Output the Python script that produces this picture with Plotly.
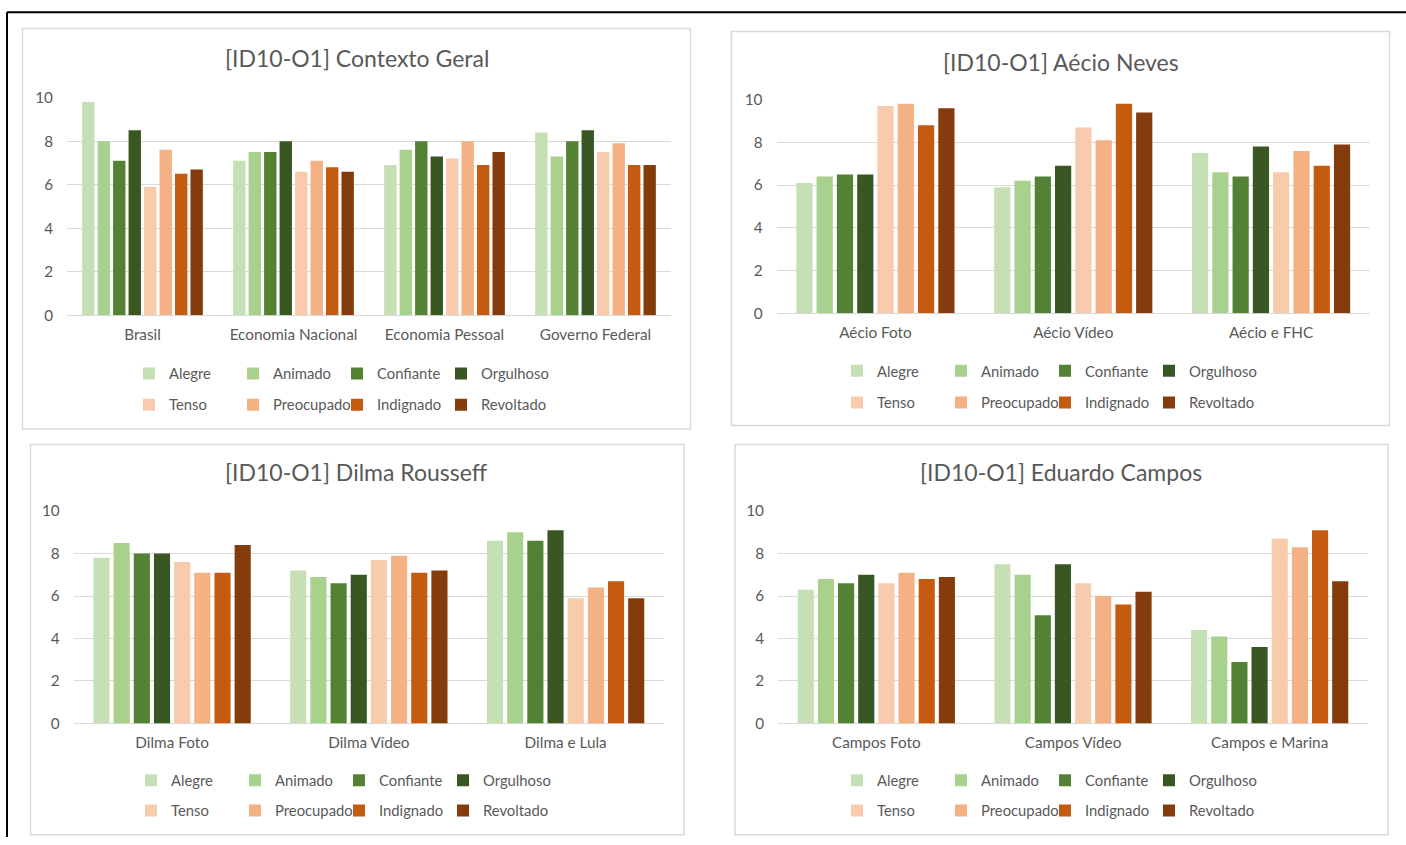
import plotly.graph_objects as go

W, H = 1406, 845

emotions = ["Alegre", "Animado", "Confiante", "Orgulhoso", "Tenso", "Preocupado", "Indignado", "Revoltado"]
colors = ["#C5E0B4", "#A9D18E", "#548235", "#385723", "#F8CBAD", "#F4B183", "#C55A11", "#843C0C"]

titles = ["[ID10-O1] Contexto Geral", "[ID10-O1] Aécio Neves", "[ID10-O1] Dilma Rousseff", "[ID10-O1] Eduardo Campos"]

cats1 = ["Brasil", "Economia Nacional", "Economia Pessoal", "Governo Federal"]
vals1 = [  # per emotion, per category
    [9.8, 7.1, 6.9, 8.4],
    [8.0, 7.5, 7.6, 7.3],
    [7.1, 7.5, 8.0, 8.0],
    [8.5, 8.0, 7.3, 8.5],
    [5.9, 6.6, 7.2, 7.5],
    [7.6, 7.1, 8.0, 7.9],
    [6.5, 6.8, 6.9, 6.9],
    [6.7, 6.6, 7.5, 6.9],
]

cats2 = ["Aécio Foto", "Aécio Vídeo", "Aécio e FHC"]
vals2 = [
    [6.1, 5.9, 7.5],
    [6.4, 6.2, 6.6],
    [6.5, 6.4, 6.4],
    [6.5, 6.9, 7.8],
    [9.7, 8.7, 6.6],
    [9.8, 8.1, 7.6],
    [8.8, 9.8, 6.9],
    [9.6, 9.4, 7.9],
]

cats3 = ["Dilma Foto", "Dilma Vídeo", "Dilma e Lula"]
vals3 = [
    [7.8, 7.2, 8.6],
    [8.5, 6.9, 9.0],
    [8.0, 6.6, 8.6],
    [8.0, 7.0, 9.1],
    [7.6, 7.7, 5.9],
    [7.1, 7.9, 6.4],
    [7.1, 7.1, 6.7],
    [8.4, 7.2, 5.9],
]

cats4 = ["Campos Foto", "Campos Vídeo", "Campos e Marina"]
vals4 = [
    [6.3, 7.5, 4.4],
    [6.8, 7.0, 4.1],
    [6.6, 5.1, 2.9],
    [7.0, 7.5, 3.6],
    [6.6, 6.6, 8.7],
    [7.1, 6.0, 8.3],
    [6.8, 5.6, 9.1],
    [6.9, 6.2, 6.7],
]

y_ticks = [0, 2, 4, 6, 8, 10]

panels = [(cats1, vals1), (cats2, vals2), (cats3, vals3), (cats4, vals4)]

# layout geometry (target pixels in the final picture)
plot_px = [  # x0, x1, y_top(10), y_bottom(0)
    (67, 671, 95.7, 314),
    (776.5, 1370, 97.7, 312),
    (73.7, 664, 510.3, 723.3),
    (778, 1368, 510.3, 723.3),
]
boxes = [  # x0, y0, x1, y1
    (22.5, 26.5, 690.5, 428),
    (731.5, 29.5, 1389.5, 424.5),
    (30.5, 443.5, 684, 835),
    (735, 443.5, 1388, 835),
]
title_pos = [(357, 56), (1061, 59.5), (357, 471.5), (1061, 471.5)]
legend_rows = [(372.7, 404), (370, 401.7), (780.7, 811), (780.7, 811)]
legend_x = [129, 837, 131, 837]

FONT = "Lato"
GRAY = "#595959"
FS = 15.3
LFS = 14.8

# the page is photographed with a slight vertical offset/scale; compensate
VA, VB = 0.9814, 7.85

def px(x):
    return x / W

def py(y):
    return 1 - ((y - VB) / VA) / H

fig = go.Figure()
layout = dict(
    width=W, height=H, margin=dict(l=0, r=0, t=0, b=0),
    paper_bgcolor="white", plot_bgcolor="white",
    barmode="group", bargap=0.18, bargroupgap=0.2,
    font=dict(family=FONT, color=GRAY, size=FS),
    showlegend=True,
)
layout["xaxis9"] = dict(domain=[0, 0.001], anchor="y9", visible=False)
layout["yaxis9"] = dict(domain=[0, 0.001], anchor="x9", visible=False)

shapes = []
annotations = []

for p, (cats, vals) in enumerate(panels):
    xa = "x" if p == 0 else f"x{p+1}"
    ya = "y" if p == 0 else f"y{p+1}"
    xkey = "xaxis" if p == 0 else f"xaxis{p+1}"
    ykey = "yaxis" if p == 0 else f"yaxis{p+1}"
    x0, x1, yt, yb = plot_px[p]
    layout[xkey] = dict(
        domain=[px(x0), px(x1)], anchor=ya, type="category",
        showgrid=False, showline=False, zeroline=False, ticks="",
        tickfont=dict(family=FONT, size=FS, color=GRAY),
        ticklabelstandoff=8, fixedrange=True,
    )
    layout[ykey] = dict(
        domain=[py(yb), py(yt)], anchor=xa, range=[0, 10],
        tickvals=y_ticks, showgrid=True, gridcolor="#D9D9D9", gridwidth=1,
        zeroline=True, zerolinecolor="#D9D9D9", zerolinewidth=1,
        showline=False, ticks="", ticklabelstandoff=13,
        tickfont=dict(family=FONT, size=FS, color=GRAY), fixedrange=True,
    )
    for i, emo in enumerate(emotions):
        row = i // 4
        lg_index = 2 * p + row + 1
        lg = "legend" if lg_index == 1 else f"legend{lg_index}"
        fig.add_trace(go.Bar(
            x=cats, y=vals[i], name=emo, marker=dict(color=colors[i], line=dict(width=0)),
            xaxis=xa, yaxis=ya, legend=lg, offsetgroup=str(i),
        ))
    for row in range(2):
        lg_index = 2 * p + row + 1
        lgkey = "legend" if lg_index == 1 else f"legend{lg_index}"
        # invisible spacer entry so the last visible label is not clipped
        fig.add_trace(go.Scatter(
            x=[None], y=[None], name=" ", mode="markers",
            marker=dict(color="rgba(0,0,0,0)", opacity=0, size=1),
            xaxis="x9", yaxis="y9", legend=lgkey, hoverinfo="skip",
        ))
        layout[lgkey] = dict(
            orientation="h", x=px(legend_x[p]), xanchor="left",
            y=py(legend_rows[p][row]), yanchor="middle",
            entrywidth=59, entrywidthmode="pixels",
            font=dict(family=FONT, size=LFS, color=GRAY),
            bgcolor="rgba(0,0,0,0)", borderwidth=0, itemclick=False, itemdoubleclick=False,
        )
    bx0, by0, bx1, by1 = boxes[p]
    shapes.append(dict(type="rect", xref="paper", yref="paper",
                       x0=px(bx0), x1=px(bx1), y0=py(by1), y1=py(by0),
                       line=dict(color="#D9D9D9", width=1.5), fillcolor="rgba(0,0,0,0)", layer="below"))
    tx, ty = title_pos[p]
    annotations.append(dict(text=titles[p], x=px(tx), y=py(ty), xref="paper", yref="paper",
                            xanchor="center", yanchor="middle", showarrow=False,
                            font=dict(family=FONT, size=23, color=GRAY)))

# outer black frame (top and left edges)
shapes.append(dict(type="line", xref="paper", yref="paper", x0=px(7), x1=1, y0=py(10), y1=py(10),
                   line=dict(color="black", width=2)))
shapes.append(dict(type="line", xref="paper", yref="paper", x0=px(7), x1=px(7), y0=py(10), y1=0,
                   line=dict(color="black", width=2)))

layout["shapes"] = shapes
layout["annotations"] = annotations
fig.update_layout(**layout)
fig.write_html("out.html", config={"displayModeBar": False})
